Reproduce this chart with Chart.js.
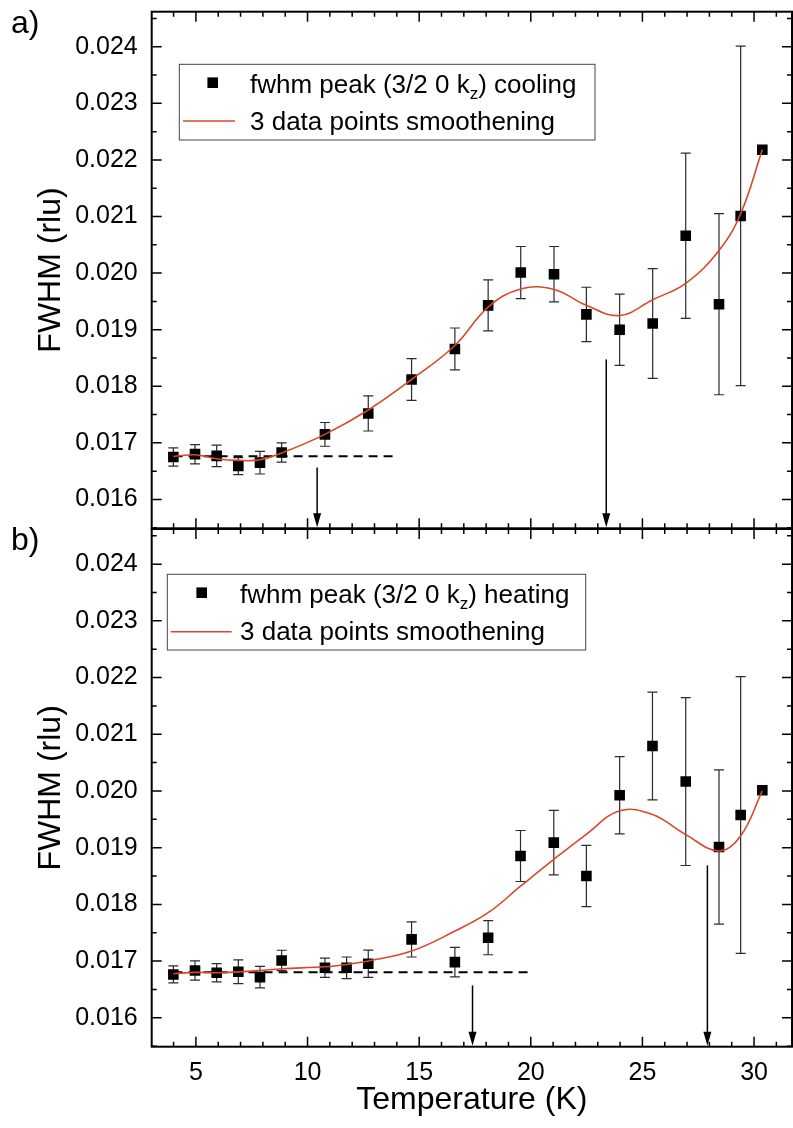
<!DOCTYPE html>
<html>
<head>
<meta charset="utf-8">
<script src="https://cdn.jsdelivr.net/npm/chart.js@4.4.1/dist/chart.umd.min.js"></script>
<style>
  html, body { margin: 0; background: #fff; }
  #wrap { position: relative; width: 793px; height: 1128px; overflow: hidden; }
  canvas { position: absolute; left: 0; }
  #chartA { top: 0; }
  #chartB { top: 517px; }
</style>
</head>
<body>
<div id="wrap">
  <canvas id="chartA" width="793" height="540"></canvas>
  <canvas id="chartB" width="793" height="611"></canvas>
</div>
<script>
// axis ranges and ticks
const X_MIN = 3.02, X_MAX = 31.7;
const Y_MIN = 0.01549, Y_MAX = 0.02462;
const xMajorTicks = [5, 10, 15, 20, 25, 30];
const yMajorTicks = [0.016, 0.017, 0.018, 0.019, 0.020, 0.021, 0.022, 0.023, 0.024];

// a) cooling
const tempCooling   = [3.99, 4.96, 5.93, 6.9, 7.87, 8.84, 10.78, 12.72, 14.66, 16.6, 18.09, 19.55, 21.04, 22.49, 23.98, 25.46, 26.94, 28.43, 29.4, 30.37];
const fwhmCooling   = [0.01675, 0.0168, 0.01677, 0.01659, 0.01665, 0.01683, 0.01715, 0.01752, 0.01812, 0.01866, 0.01943, 0.02001, 0.01998, 0.01927, 0.019, 0.01911, 0.02066, 0.01945, 0.02101, 0.02218];
const errCooling    = [0.00016, 0.00017, 0.00019, 0.00015, 0.0002, 0.00017, 0.00021, 0.00031, 0.00037, 0.00037, 0.00045, 0.00046, 0.00049, 0.00048, 0.00063, 0.00097, 0.00146, 0.0016, 0.003, 0];
const smoothCooling = [0.01676, 0.01679, 0.01672, 0.01669, 0.0167, 0.01682, 0.01715, 0.01758, 0.01812, 0.01872, 0.0194, 0.01972, 0.01971, 0.01943, 0.01925, 0.01953, 0.01982, 0.0204, 0.02105, 0.02218];
const baseCooling = 0.016763, baseCoolingFrom = 4.0, baseCoolingTo = 13.9;
const arrowCoolingT    = [10.43, 23.38];
const arrowCoolingFrom = [0.016563, 0.018475];

// b) heating
const tempHeating   = [3.99, 4.96, 5.93, 6.9, 7.87, 8.84, 10.78, 11.75, 12.72, 14.66, 16.6, 18.09, 19.54, 21.03, 22.49, 23.98, 25.45, 26.94, 28.43, 29.4, 30.37];
const fwhmHeating   = [0.016764, 0.016835, 0.016794, 0.016812, 0.016717, 0.017011, 0.016882, 0.016882, 0.016953, 0.017382, 0.016982, 0.017412, 0.018853, 0.019089, 0.0185, 0.019924, 0.020794, 0.020166, 0.019012, 0.019577, 0.020012];
const errHeating    = [0.00015, 0.00017, 0.00016, 0.00021, 0.00019, 0.00018, 0.00017, 0.00019, 0.00024, 0.00031, 0.00026, 0.0003, 0.00045, 0.00057, 0.00054, 0.00068, 0.00095, 0.00148, 0.00136, 0.00244, 0];
const smoothHeating = [0.016777, 0.0168, 0.016794, 0.01681, 0.016835, 0.016865, 0.0169, 0.01694, 0.017, 0.017176, 0.017529, 0.017853, 0.01832, 0.018794, 0.019236, 0.01965, 0.019585, 0.01923, 0.018941, 0.019206, 0.02];
const baseHeating = 0.016805, baseHeatingFrom = 4.0, baseHeatingTo = 20.0;
const arrowHeatingT    = [17.39, 27.91];
const arrowHeatingFrom = [0.01657, 0.018688];

const FONT = '"Liberation Sans", Arial, sans-serif';
const RED = '#d9472b';
Chart.defaults.font.family = FONT;
Chart.defaults.color = '#000';

function decor(p) {
  return {
    id: 'decor',
    beforeDatasetsDraw(chart) {
      const { ctx } = chart, xs = chart.scales.x, ys = chart.scales.y;
      ctx.save();
      ctx.strokeStyle = '#2b2b2b';
      ctx.lineWidth = 1.2;
      p.temps.forEach((t, i) => {
        const e = p.err[i];
        if (!e) return;
        const x = xs.getPixelForValue(t);
        const y1 = ys.getPixelForValue(p.fwhm[i] + e), y2 = ys.getPixelForValue(p.fwhm[i] - e);
        ctx.beginPath();
        ctx.moveTo(x, y1); ctx.lineTo(x, y2);
        ctx.moveTo(x - 5, y1); ctx.lineTo(x + 5, y1);
        ctx.moveTo(x - 5, y2); ctx.lineTo(x + 5, y2);
        ctx.stroke();
      });
      ctx.restore();
    },
    afterDatasetsDraw(chart) {
      const { ctx, chartArea: a } = chart, xs = chart.scales.x, ys = chart.scales.y;
      ctx.save();
      // arrows
      ctx.strokeStyle = '#000'; ctx.fillStyle = '#000'; ctx.lineWidth = 1.5;
      p.arrowT.forEach((t, i) => {
        const x = xs.getPixelForValue(t), y0 = ys.getPixelForValue(p.arrowFrom[i]), tip = a.bottom - 1;
        ctx.beginPath(); ctx.moveTo(x, y0); ctx.lineTo(x, tip - 10); ctx.stroke();
        ctx.beginPath(); ctx.moveTo(x - 4, tip - 14); ctx.lineTo(x + 4, tip - 14); ctx.lineTo(x, tip); ctx.closePath(); ctx.fill();
      });
      // frame
      ctx.lineWidth = 2;
      ctx.strokeRect(a.left, a.top, a.right - a.left, a.bottom - a.top);
      // inward ticks
      ctx.lineWidth = 1.5;
      ctx.beginPath();
      for (let v = 4; v <= 31; v++) {
        const x = xs.getPixelForValue(v), len = v % 5 === 0 ? 10 : 5;
        ctx.moveTo(x, a.bottom); ctx.lineTo(x, a.bottom - len);
        ctx.moveTo(x, a.top); ctx.lineTo(x, a.top + len);
      }
      for (let k = 31; k <= 49; k++) {
        const v = k * 0.0005, y = ys.getPixelForValue(v), len = k % 2 === 0 ? 10 : 5;
        ctx.moveTo(a.left, y); ctx.lineTo(a.left + len, y);
        ctx.moveTo(a.right, y); ctx.lineTo(a.right - len, y);
      }
      ctx.stroke();
      // legend
      const L = p.legend;
      ctx.lineWidth = 1; ctx.strokeStyle = '#444';
      ctx.strokeRect(L.x, L.y, L.w, L.h);
      ctx.fillStyle = '#000';
      ctx.fillRect(L.mx - 5.3, L.y + L.r1 - 5.3, 10.6, 10.6);
      ctx.strokeStyle = RED; ctx.lineWidth = 1.5;
      ctx.beginPath(); ctx.moveTo(L.lx1, L.y + L.r2); ctx.lineTo(L.lx2, L.y + L.r2); ctx.stroke();
      ctx.textBaseline = 'alphabetic'; ctx.textAlign = 'left';
      let tx = L.tx;
      const big = '26px ' + FONT, small = '17px ' + FONT;
      p.label1.forEach((part, i) => {
        ctx.font = i === 1 ? small : big;
        ctx.fillText(part, tx, L.y + L.b1 + (i === 1 ? 6 : 0));
        tx += ctx.measureText(part).width;
      });
      ctx.font = big;
      ctx.fillText(p.label2, L.tx, L.y + L.b2);
      // panel letter
      ctx.font = '32px ' + FONT;
      ctx.fillText(p.letter, 11, 33);
      ctx.restore();
    }
  };
}

function makeChart(id, p) {
  const bottom = p.isBottom;
  return new Chart(document.getElementById(id), {
    type: 'scatter',
    data: {
      datasets: [
        { type: 'line', data: p.temps.map((t, i) => ({ x: t, y: p.smooth[i] })), borderColor: RED, borderWidth: 1.6,
          pointRadius: 0, tension: 0.4, fill: false, order: 0 },
        { data: p.temps.map((t, i) => ({ x: t, y: p.fwhm[i] })), pointStyle: 'rect', pointRadius: 7.5,
          backgroundColor: '#000', borderWidth: 0, order: 1 },
        { type: 'line', data: [{ x: p.baseFrom, y: p.base }, { x: p.baseTo, y: p.base }], borderColor: '#000',
          borderWidth: 2, borderDash: [9, 6], pointRadius: 0, order: 2 }
      ]
    },
    options: {
      responsive: false,
      animation: false,
      events: [],
      layout: { autoPadding: false, padding: { top: bottom ? 12 : 11.7, bottom: bottom ? 0 : 11.7, left: 0, right: 1 } },
      plugins: { legend: { display: false }, tooltip: { enabled: false } },
      scales: {
        x: {
          type: 'linear', min: X_MIN, max: X_MAX, display: bottom,
          afterBuildTicks: s => { s.ticks = xMajorTicks.map(v => ({ value: v })); },
          afterFit: s => { s.height = bottom ? 81.3 : 0; s.paddingLeft = 0; s.paddingRight = 0; },
          grid: { display: false, drawTicks: false }, border: { display: false },
          ticks: { font: { size: 25 }, color: '#000', padding: 11, maxRotation: 0, autoSkip: false },
          title: { display: true, text: 'Temperature (K)', font: { size: 32 }, color: '#000', padding: { top: 0, bottom: 9 } }
        },
        y: {
          type: 'linear', min: Y_MIN, max: Y_MAX,
          afterBuildTicks: s => { s.ticks = yMajorTicks.map(v => ({ value: v })); },
          afterFit: s => { s.width = 151.7; s.paddingTop = 0; s.paddingBottom = 0; },
          grid: { display: false, drawTicks: false }, border: { display: false },
          ticks: { font: { size: 25 }, color: '#000', padding: 14, autoSkip: false, callback: v => v.toFixed(3) },
          title: { display: true, text: 'FWHM (rlu)', font: { size: 32 }, color: '#000', padding: { top: 32, bottom: 0 } }
        }
      }
    },
    plugins: [decor(p)]
  });
}

makeChart('chartA', {
  isBottom: false, letter: 'a)',
  temps: tempCooling, fwhm: fwhmCooling, err: errCooling, smooth: smoothCooling,
  base: baseCooling, baseFrom: baseCoolingFrom, baseTo: baseCoolingTo,
  arrowT: arrowCoolingT, arrowFrom: arrowCoolingFrom,
  label1: ['fwhm peak (3/2 0 k', 'z', ') cooling'], label2: '3 data points smoothening',
  legend: { x: 179.3, y: 64.3, w: 415.7, h: 75.7, mx: 212.7, r1: 18.4, r2: 56.7, lx1: 183, lx2: 235, tx: 250, b1: 28.4, b2: 65.7 }
});

makeChart('chartB', {
  isBottom: true, letter: 'b)',
  temps: tempHeating, fwhm: fwhmHeating, err: errHeating, smooth: smoothHeating,
  base: baseHeating, baseFrom: baseHeatingFrom, baseTo: baseHeatingTo,
  arrowT: arrowHeatingT, arrowFrom: arrowHeatingFrom,
  label1: ['fwhm peak (3/2 0 k', 'z', ') heating'], label2: '3 data points smoothening',
  legend: { x: 167.3, y: 57.3, w: 418.4, h: 75.7, mx: 201.7, r1: 18.4, r2: 57.4, lx1: 170.7, lx2: 231.7, tx: 240, b1: 28.4, b2: 65.7 }
});
</script>
</body>
</html>
